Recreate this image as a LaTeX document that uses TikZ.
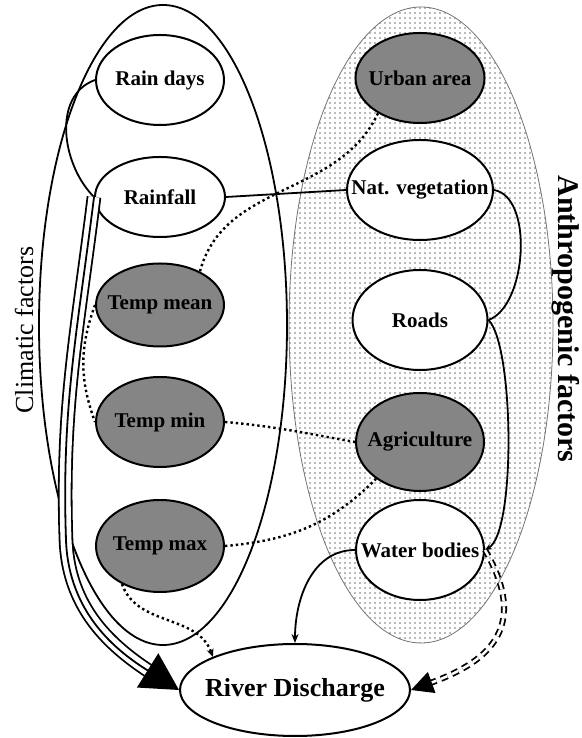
\documentclass[tikz,border=0pt]{standalone}
\usepackage{fontspec}
\setmainfont{Liberation Serif}
\usetikzlibrary{arrows.meta,positioning,shapes.geometric,patterns.meta}
\tikzstyle{factor}=[ellipse,draw,line width=2pt,fill=white,minimum width=128pt,minimum height=90pt,inner xsep=-20pt,font=\bfseries\fontsize{21}{23}\selectfont]
\tikzstyle{dark}=[factor,fill=black!48]
\tikzstyle{group}=[ellipse,inner sep=0pt]
\tikzstyle{link}=[line width=1.8pt]
\tikzstyle{weak}=[line width=2.4pt,dash pattern=on 2.4pt off 3pt]

\begin{document}
\begin{tikzpicture}[x=1pt,y=1pt]
  \useasboundingbox (0,0) rectangle (581,738);
  % the two groups
  \node[group,draw,line width=1.8pt,minimum width=248pt,minimum height=640pt] (clim) at (163,413) {};
  \node[group,draw=black!55,line width=0.8pt,pattern={Dots[distance=5pt,radius=0.8pt]},pattern color=black!55,minimum width=264pt,minimum height=636pt] (anth) at (421,413) {};
  \node[rotate=90,anchor=base,inner sep=0pt,font=\fontsize{26}{28}\selectfont] (climlbl) at (33,408) {Climatic factors};
  \node[rotate=-90,anchor=base,inner sep=0pt,font=\bfseries\fontsize{30}{32}\selectfont] (anthlbl) at (558,419) {Anthropogenic factors};

  % climatic factors
  \node[factor] (rdays) at (160,658) {Rain days};
  \node[factor,minimum width=130pt,minimum height=80pt,node distance=117pt,below of=rdays] (rfall) {Rainfall};
  \node[dark,minimum height=83pt,node distance=108pt,below of=rfall] (tmean) {Temp mean};
  \node[dark,node distance=117pt,below of=tmean] (tmin) {Temp min};
  \node[dark,minimum height=92pt,node distance=124pt,below of=tmin] (tmax) {Temp max};

  % anthropogenic factors
  \node[dark,minimum width=129pt] (urban) at (420,660) {Urban area};
  \node[factor,minimum width=146pt,minimum height=100pt,node distance=112pt,below of=urban] (natveg) {Nat. vegetation};
  \node[factor,minimum width=135pt,minimum height=100pt,node distance=130pt,below of=natveg] (roads) {Roads};
  \node[dark,minimum height=98pt,node distance=122pt,below of=roads] (agri) {Agriculture};
  \node[factor,minimum height=100pt,node distance=108pt,below of=agri] (water) {Water bodies};

  \node[factor,minimum width=230pt,minimum height=92pt,font=\bfseries\fontsize{26}{28}\selectfont] (rd) at (295,48) {River Discharge};

  \coordinate (bend) at (66,198);

  \draw[link] (rdays.west) to[out=200,in=135] (rfall.west);
  \draw[link,double,double distance=11pt,shorten >=24pt] (rfall.west) to[out=-97,in=92] (bend) to[out=-88,in=148] (rd.west);
  \draw[link,-{Triangle[length=37pt,width=40pt]}] (rfall.west) to[out=-97,in=92] (bend) to[out=-88,in=148] (rd.west);
  \draw[link] (rfall.east) -- (natveg.west);

  \draw[weak] (urban.220) to[out=245,in=75] (tmean.40);
  \draw[weak] (tmean.west) to[out=250,in=110] (tmin.west);
  \draw[weak] (tmin.east) to[out=-5,in=170] (agri.west);
  \draw[weak] (tmax.east) to[out=5,in=225] (agri.220);
  \draw[weak,-{Stealth[length=8pt,width=7pt]}] (tmax.225) to[out=-70,in=110] (rd.158);

  \draw[link] (natveg.east) to[out=-10,in=20,looseness=0.8] (roads.east);
  \draw[link,-{Stealth[length=7pt,width=6pt]}] (roads.east) to[out=-45,in=30,looseness=0.4] (water.east);
  \draw[link,-{Stealth[length=9pt,width=7pt]}] (water.west) to[out=180,in=90] (rd.north);
  \draw[link,double,double distance=2.5pt,dash pattern=on 7pt off 5pt,-{Triangle[length=22pt,width=22pt]}] (water.east) to[out=-60,in=20,looseness=1.4] (rd.east);
\end{tikzpicture}
\end{document}
